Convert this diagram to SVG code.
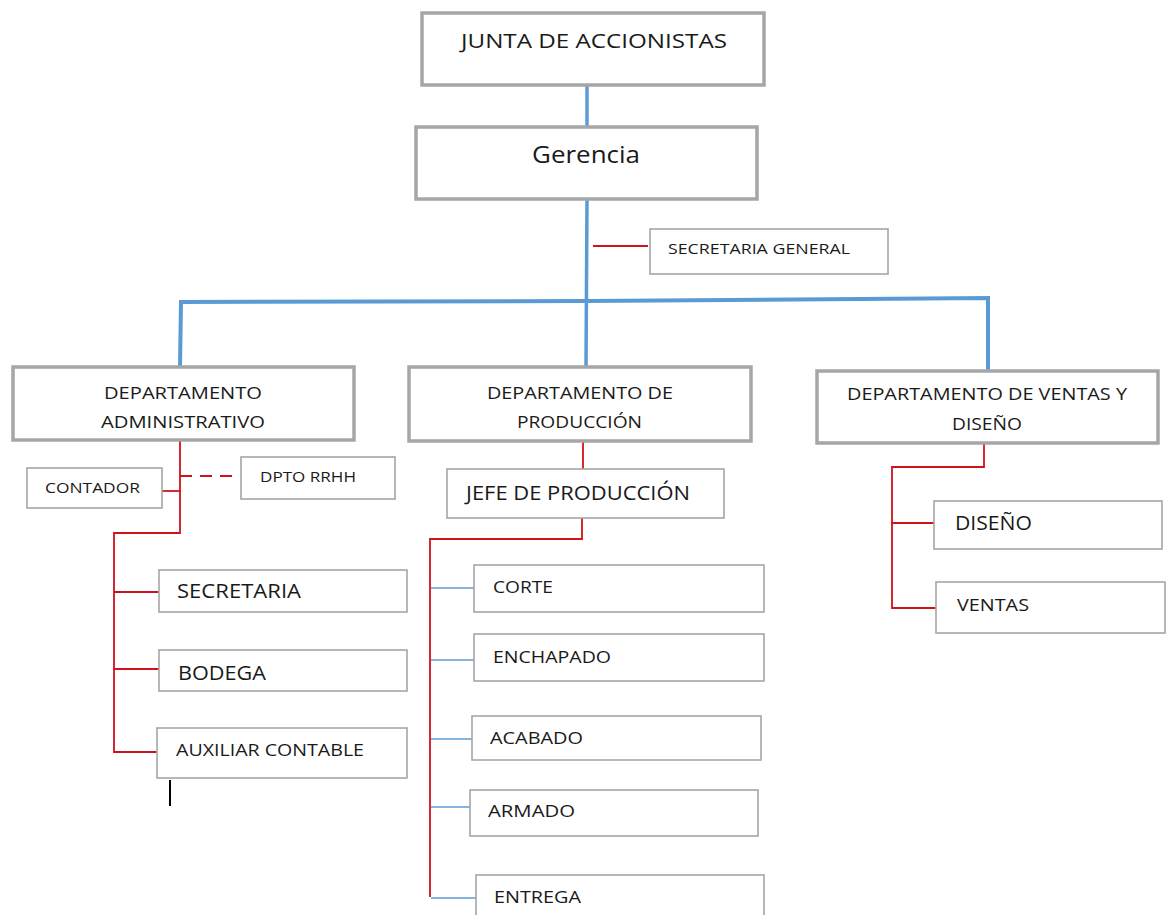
<svg xmlns="http://www.w3.org/2000/svg" width="1168" height="915" viewBox="0 0 1168 915">
<style>
.thick{fill:#fff;stroke:#a6a6a6;stroke-width:3.5}
.thin{fill:#fff;stroke:#a6a6a6;stroke-width:1.6}
text{font-family:"Open Sans","Noto Sans","Liberation Sans",sans-serif;fill:#1a1a1a}
.blue{stroke:#5b9bd5;fill:none}
.red{stroke:#d0121b;fill:none;stroke-width:1.8}
.blk{stroke:#000;stroke-width:2}
</style>
<rect width="1168" height="915" fill="#fff"/>
<g id="connectors">
<line class="blue" stroke-width="3.5" x1="587" y1="85" x2="587" y2="127"/>
<line class="blue" stroke-width="3.5" x1="587" y1="199" x2="586" y2="369"/>
<path class="blue" stroke-width="4" d="M180 367 L181 302 L587 301 L988 298 L988 370"/>
<line class="red" x1="593" y1="246" x2="648" y2="246"/>
<path class="red" d="M180 441 V533 H114 V752 H157"/>
<line class="red" x1="114" y1="592" x2="159" y2="592"/>
<line class="red" x1="114" y1="669" x2="159" y2="669"/>
<line class="red" x1="162" y1="491" x2="180" y2="491"/>
<line class="red" x1="180" y1="476" x2="240" y2="476" stroke-dasharray="12,8"/>
<line class="blk" x1="170" y1="780" x2="170" y2="806"/>
<line class="red" x1="583" y1="442" x2="583" y2="469"/>
<path class="red" d="M582 518 V539 H430 V897"/>
<g class="blue" stroke-width="1.6">
<line x1="431" y1="588" x2="474" y2="588"/>
<line x1="431" y1="660" x2="474" y2="660"/>
<line x1="431" y1="739" x2="472" y2="739"/>
<line x1="431" y1="807" x2="470" y2="807"/>
<line x1="431" y1="898" x2="476" y2="898"/>
</g>
<path class="red" d="M984 443 V467 H892 V608 H937"/>
<line class="red" x1="892" y1="523" x2="935" y2="523"/>
</g>
<g id="junta"><rect class="thick" x="422" y="13" width="342" height="72"/><text x="461" y="48" font-size="20" textLength="266" lengthAdjust="spacingAndGlyphs">JUNTA DE ACCIONISTAS</text></g>
<g id="gerencia"><rect class="thick" x="416" y="127" width="341" height="72"/><text x="532" y="163" font-size="23" textLength="108" lengthAdjust="spacingAndGlyphs">Gerencia</text></g>
<g id="secgeneral"><rect class="thin" x="650" y="229" width="238" height="45"/><text x="668" y="254" font-size="15" textLength="182" lengthAdjust="spacingAndGlyphs">SECRETARIA GENERAL</text></g>
<g id="dptoadmin"><rect class="thick" x="13" y="367" width="341" height="73"/><text x="104" y="399" font-size="17" textLength="158" lengthAdjust="spacingAndGlyphs">DEPARTAMENTO</text><text x="101" y="428" font-size="17" textLength="164" lengthAdjust="spacingAndGlyphs">ADMINISTRATIVO</text></g>
<g id="dptoprod"><rect class="thick" x="409" y="367" width="342" height="74"/><text x="487" y="399" font-size="17" textLength="186" lengthAdjust="spacingAndGlyphs">DEPARTAMENTO DE</text><text x="517" y="428" font-size="17" textLength="125" lengthAdjust="spacingAndGlyphs">PRODUCCIÓN</text></g>
<g id="dptoventas"><rect class="thick" x="817" y="371" width="341" height="72"/><text x="847" y="400" font-size="17" textLength="280" lengthAdjust="spacingAndGlyphs">DEPARTAMENTO DE VENTAS Y</text><text x="952" y="430" font-size="17" textLength="70" lengthAdjust="spacingAndGlyphs">DISEÑO</text></g>
<g id="contador"><rect class="thin" x="27" y="468" width="135" height="40"/><text x="45" y="493" font-size="14" textLength="95" lengthAdjust="spacingAndGlyphs">CONTADOR</text></g>
<g id="rrhh"><rect class="thin" x="241" y="457" width="154" height="42"/><text x="260" y="482" font-size="14" textLength="96" lengthAdjust="spacingAndGlyphs">DPTO RRHH</text></g>
<g id="secretaria"><rect class="thin" x="159" y="570" width="248" height="42"/><text x="177" y="598" font-size="20" textLength="124" lengthAdjust="spacingAndGlyphs">SECRETARIA</text></g>
<g id="bodega"><rect class="thin" x="159" y="650" width="248" height="41"/><text x="178" y="680" font-size="20" textLength="88" lengthAdjust="spacingAndGlyphs">BODEGA</text></g>
<g id="auxiliar"><rect class="thin" x="157" y="728" width="250" height="50"/><text x="176" y="756" font-size="16" textLength="188" lengthAdjust="spacingAndGlyphs">AUXILIAR CONTABLE</text></g>
<g id="jefeprod"><rect class="thin" x="447" y="469" width="277" height="49"/><text x="466" y="500" font-size="20" textLength="224" lengthAdjust="spacingAndGlyphs">JEFE DE PRODUCCIÓN</text></g>
<g id="corte"><rect class="thin" x="474" y="565" width="290" height="47"/><text x="493" y="593" font-size="17" textLength="60" lengthAdjust="spacingAndGlyphs">CORTE</text></g>
<g id="enchapado"><rect class="thin" x="474" y="634" width="290" height="47"/><text x="493" y="663" font-size="17" textLength="118" lengthAdjust="spacingAndGlyphs">ENCHAPADO</text></g>
<g id="acabado"><rect class="thin" x="472" y="716" width="289" height="44"/><text x="490" y="744" font-size="17" textLength="93" lengthAdjust="spacingAndGlyphs">ACABADO</text></g>
<g id="armado"><rect class="thin" x="470" y="790" width="288" height="46"/><text x="488" y="817" font-size="17" textLength="87" lengthAdjust="spacingAndGlyphs">ARMADO</text></g>
<g id="entrega"><rect class="thin" x="476" y="875" width="288" height="50"/><text x="494" y="903" font-size="17" textLength="87" lengthAdjust="spacingAndGlyphs">ENTREGA</text></g>
<g id="diseno"><rect class="thin" x="934" y="501" width="228" height="48"/><text x="955" y="530" font-size="20" textLength="77" lengthAdjust="spacingAndGlyphs">DISEÑO</text></g>
<g id="ventas"><rect class="thin" x="936" y="582" width="229" height="51"/><text x="957" y="611" font-size="17" textLength="72" lengthAdjust="spacingAndGlyphs">VENTAS</text></g>
</svg>
